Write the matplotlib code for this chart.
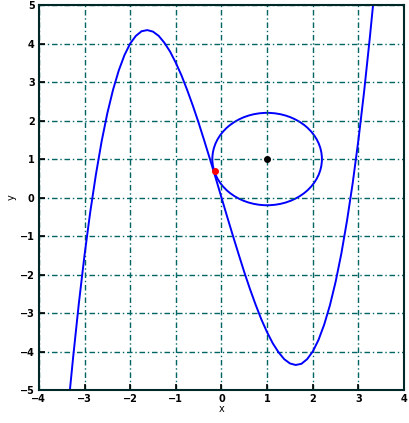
import matplotlib
matplotlib.use('Agg')
import matplotlib.pyplot as plt
from matplotlib.patches import Circle

# points (left half, right half is the mirror image)
left_x = [-3.32, -3.25, -3.125, -3.0, -2.875, -2.75, -2.625, -2.5, -2.375, -2.25, -2.125,
          -2.0, -1.875, -1.75, -1.625, -1.5, -1.375, -1.25, -1.125, -1.0, -0.875, -0.75,
          -0.625, -0.5, -0.375, -0.25, -0.125]
left_y = [-5.0, -4.16, -2.76, -1.5, -0.38, 0.6, 1.46, 2.19, 2.8, 3.3, 3.7,
          4.0, 4.2, 4.32, 4.35, 4.31, 4.2, 4.02, 3.79, 3.5, 3.17, 2.79,
          2.38, 1.94, 1.47, 0.99, 0.5]
right_x = [0.0, 0.125, 0.25, 0.375, 0.5, 0.625, 0.75, 0.875, 1.0, 1.125, 1.25, 1.375,
           1.5, 1.625, 1.75, 1.875, 2.0, 2.125, 2.25, 2.375, 2.5, 2.625, 2.75, 2.875,
           3.0, 3.125, 3.25, 3.32]
right_y = [0.0, -0.5, -0.99, -1.47, -1.94, -2.38, -2.79, -3.17, -3.5, -3.79, -4.02, -4.2,
           -4.31, -4.35, -4.32, -4.2, -4.0, -3.7, -3.3, -2.8, -2.19, -1.46, -0.6, 0.38,
           1.5, 2.76, 4.16, 5.0]

# circle and markers
circle_center = (1.0, 1.0)
circle_radius = 1.2
red_point = (-0.15, 0.7)

xticks = [-4, -3, -2, -1, 0, 1, 2, 3, 4]
yticks = [-5, -4, -3, -2, -1, 0, 1, 2, 3, 4, 5]

fig = plt.figure(figsize=(4.09, 4.23), dpi=100)
ax = fig.add_axes([0.095, 0.078, 0.893, 0.91])

ax.plot(left_x + right_x, left_y + right_y, color='#0000ff', lw=1.4)
ax.add_patch(Circle(circle_center, circle_radius, fill=False, edgecolor='#0000ff', lw=1.4))
ax.plot(*circle_center, 'o', color='black', ms=4)
ax.plot(*red_point, 'o', color='red', ms=4)

ax.set_xlim(-4, 4)
ax.set_ylim(-5, 5)
ax.set_xticks(xticks)
ax.set_yticks(yticks)
ax.tick_params(labelsize=7, length=4, width=1.2, direction='in', pad=3)
for lab in ax.get_xticklabels() + ax.get_yticklabels():
    lab.set_fontweight('bold')
ax.grid(True, color='#006565', linestyle=(0, (4, 2, 1, 2)), lw=1.0)
for s in ax.spines.values():
    s.set_linewidth(1.5)
    s.set_color('#002828')

ax.set_xlabel('x', fontsize=7, labelpad=0)
ax.set_ylabel('y', fontsize=7, labelpad=2)

fig.savefig('out.png', dpi=100)
